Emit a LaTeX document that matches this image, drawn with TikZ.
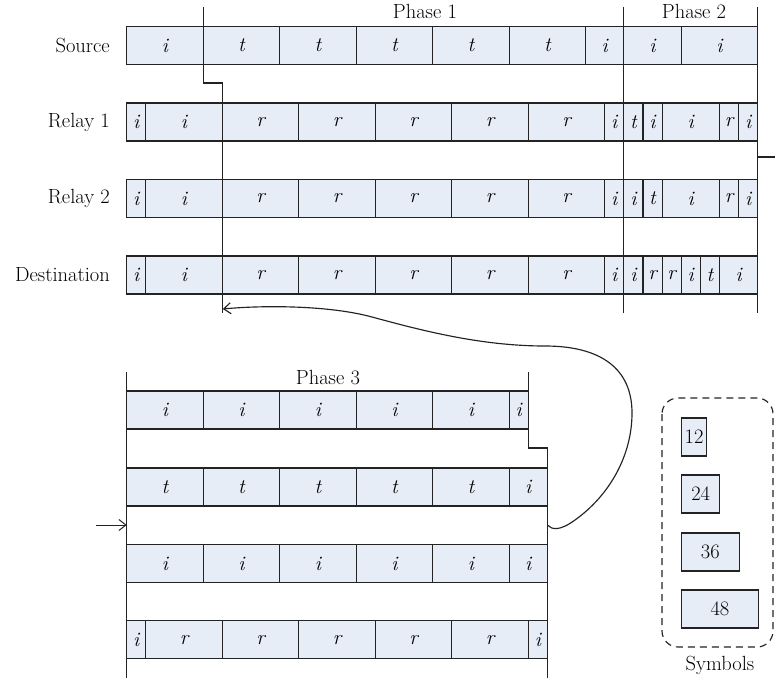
\documentclass[tikz,border=0pt]{standalone}
\usepackage{fontspec}
\usetikzlibrary{arrows.meta}
\definecolor{slotfill}{RGB}{230,237,246}
\definecolor{ink}{RGB}{35,35,35}
\newcommand{\Uw}{1.5935}
\newcommand{\slotrow}[4]{%
  \foreach \s/\w/\l [count=\k] in {#4}{%
    \node[slotbox, minimum width=\w*\Uw pt, anchor=west] (#1\k) at ({#3+\s*\Uw}, #2) {\l};
  }%
}
\begin{document}
\begin{tikzpicture}[x=1pt, y=-1pt,
  slotbox/.style={draw=ink, fill=slotfill, line width=1.15pt, inner sep=0pt, outer sep=0pt,
    minimum height=38pt, font=\fontsize{20.5}{23}\selectfont\itshape},
  lbl/.style={font=\fontsize{20.5}{23}\selectfont, inner sep=0pt},
  sep/.style={draw=ink, line width=1.15pt},
  symbox/.style={draw=ink, fill=slotfill, line width=1.15pt, inner sep=0pt,
    minimum height=38pt, anchor=west, font=\fontsize{20.5}{23}\selectfont},
  tip/.style={-{Straight Barb[length=7pt,width=11pt]}}]
\useasboundingbox (0,0) rectangle (775,682);

% ---------- top rows ----------
\node[lbl, anchor=east] (lsrc) at (110,45.5) {Source};
\node[lbl, anchor=east] (lr1) at (110,122) {Relay 1};
\node[lbl, anchor=east] (lr2) at (110,198.5) {Relay 2};
\node[lbl, anchor=east] (ldst) at (110,275) {Destination};

\slotrow{s}{45.5}{126.7}{0/48/i,48/48/t,96/48/t,144/48/t,192/48/t,240/48/t,288/24/i,312/36/i,348/48/i}
\slotrow{a}{122}{126.7}{0/12/i,12/48/i,60/48/r,108/48/r,156/48/r,204/48/r,252/48/r,300/12/i,312/12/t,324/12/i,336/36/i,372/12/r,384/12/i}
\slotrow{b}{198.5}{126.7}{0/12/i,12/48/i,60/48/r,108/48/r,156/48/r,204/48/r,252/48/r,300/12/i,312/12/i,324/12/t,336/36/i,372/12/r,384/12/i}
\slotrow{d}{275}{126.7}{0/12/i,12/48/i,60/48/r,108/48/r,156/48/r,204/48/r,252/48/r,300/12/i,312/12/i,324/12/r,336/12/r,348/12/i,360/12/t,372/24/i}

\node[lbl] (ph1) at (425,11) {Phase 1};
\node[lbl] (ph2) at (694,11) {Phase 2};

% phase separators
\coordinate (p1a) at (203.2,7);
\coordinate (p1b) at (203.2,83);
\coordinate (p1c) at (222.3,83);
\coordinate (p1d) at (222.3,313);
\draw[sep] (p1a) -- (p1b) -- (p1c) -- (p1d);
\coordinate (p2a) at (623.9,7);
\coordinate (p2b) at (623.9,313);
\draw[sep] (p2a) -- (p2b);
\coordinate (p3a) at (757.7,7);
\coordinate (p3b) at (757.7,313);
\draw[sep] (p3a) -- (p3b);
\coordinate (cont) at (757.7,157);
\coordinate (contE) at (775,157);
\draw[sep] (cont) -- (contE);

% ---------- phase 3 ----------
\node[lbl] (ph3) at (328,378) {Phase 3};
\slotrow{e}{410}{126.7}{0/48/i,48/48/i,96/48/i,144/48/i,192/48/i,240/12/i}
\slotrow{f}{487}{126.7}{0/48/t,48/48/t,96/48/t,144/48/t,192/48/t,240/24/i}
\slotrow{g}{563.5}{126.7}{0/48/i,48/48/i,96/48/i,144/48/i,192/48/i,240/24/i}
\slotrow{h}{639.7}{126.7}{0/12/i,12/48/r,60/48/r,108/48/r,156/48/r,204/48/r,252/12/i}

\coordinate (q1a) at (126.7,372);
\coordinate (q1b) at (126.7,678);
\draw[sep] (q1a) -- (q1b);
\coordinate (q2a) at (528.3,372);
\coordinate (q2b) at (528.3,448);
\coordinate (q2c) at (547.3,448);
\coordinate (q2d) at (547.3,678);
\draw[sep] (q2a) -- (q2b) -- (q2c) -- (q2d);

% incoming arrow
\coordinate (inA) at (96,525);
\coordinate (inB) at (126.7,525);
\draw[sep, line width=1pt, tip] (inA) -- (inB);

% loop-back curve
\coordinate (cS) at (547.3,525);
\coordinate (cE) at (222.8,309);
\draw[sep, tip] (cS) .. controls (552,530) and (560,531) .. (575,520)
  .. controls (610,495) and (632,455) .. (632,413)
  .. controls (632,368) and (600,346) .. (545,346)
  .. controls (480,346) and (420,330) .. (372,317)
  .. controls (330,305.5) and (265,305) .. (cE);

% ---------- symbols legend ----------
\draw[draw=ink, line width=1.15pt, dash pattern=on 7pt off 5pt, rounded corners=16pt]
  (662,398) rectangle (773,647);
\node[symbox, minimum width=25pt] (y12) at (681,437) {12};
\node[symbox, minimum width=38.3pt] (y24) at (681,494) {24};
\node[symbox, minimum width=57.5pt] (y36) at (681,552) {36};
\node[symbox, minimum width=76.7pt] (y48) at (681,609) {48};
\node[lbl] (sym) at (720,665) {Symbols};
\end{tikzpicture}
\end{document}
